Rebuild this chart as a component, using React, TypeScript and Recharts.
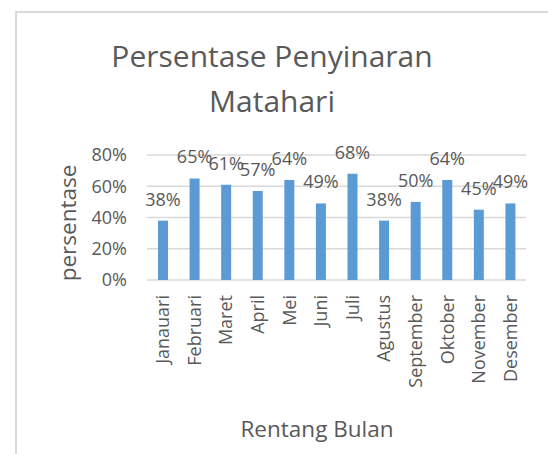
import { BarChart, Bar, XAxis, YAxis, CartesianGrid, LabelList } from "recharts";

const months = [
  "Janauari", "Februari", "Maret", "April", "Mei", "Juni",
  "Juli", "Agustus", "September", "Oktober", "November", "Desember",
];
const persen = [38, 65, 61, 57, 64, 49, 68, 38, 50, 64, 45, 49];
const yTicks = [0, 20, 40, 60, 80];

const TEXT = "#595959";
const GRID = "#D9D9D9";
const BAR = "#5B9BD5";
const FONT = "'Open Sans', sans-serif";

const data = months.map((m, i) => ({ bulan: m, nilai: persen[i] }));

// rotated month names, top end just under the axis
const MonthTick = ({ x, y, payload }: any) => (
  <text
    transform={`translate(${x},${y + 15}) rotate(-90)`}
    textAnchor="end"
    dy="0.36em"
    fill={TEXT}
    fontSize={18}
    fontFamily={FONT}
  >
    {payload.value}
  </text>
);

export default function App() {
  return (
    <div style={{ position: "absolute", left: 0, top: 0, width: 548, height: 454, overflow: "hidden", background: "#fff" }}>
      {/* chart area frame */}
      <div style={{ position: "absolute", left: 15, top: 11, width: 600, height: 500, border: `2px solid ${GRID}` }} />
      <div style={{ position: "absolute", left: 0, top: 0 }}>
        <BarChart
          width={548}
          height={454}
          data={data}
          margin={{ top: 155, right: 22, bottom: 74, left: 87 }}
          style={{ fontFamily: FONT }}
        >
          <CartesianGrid vertical={false} stroke={GRID} strokeWidth={1.5} />
          <XAxis
            dataKey="bulan"
            interval={0}
            height={100}
            axisLine={false}
            tickLine={false}
            tickSize={0}
            tickMargin={0}
            tick={<MonthTick />}
          />
          <YAxis
            domain={[0, 80]}
            ticks={yTicks}
            width={60}
            axisLine={false}
            tickLine={false}
            tickSize={0}
            tickMargin={20}
            tickFormatter={(v) => `${v}%`}
            tick={{ fill: TEXT, fontSize: 18, fontFamily: FONT }}
          />
          <Bar dataKey="nilai" fill={BAR} barSize={10} isAnimationActive={false}>
            <LabelList
              dataKey="nilai"
              position="top"
              offset={15}
              formatter={(v: any) => `${v}%`}
              fill={TEXT}
              fontSize={18}
              fontFamily={FONT}
            />
          </Bar>
        </BarChart>
      </div>
      <svg width={548} height={454} style={{ position: "absolute", left: 0, top: 0, pointerEvents: "none" }}>
        <g fill={TEXT} fontFamily={FONT}>
          <text x={272} y={67} textAnchor="middle" fontSize={30}>Persentase Penyinaran</text>
          <text x={272} y={112} textAnchor="middle" fontSize={30}>Matahari</text>
          <text transform="translate(76,223) rotate(-90)" textAnchor="middle" fontSize={22.5}>persentase</text>
          <text x={317} y={437} textAnchor="middle" fontSize={22.5}>Rentang Bulan</text>
        </g>
      </svg>
    </div>
  );
}
